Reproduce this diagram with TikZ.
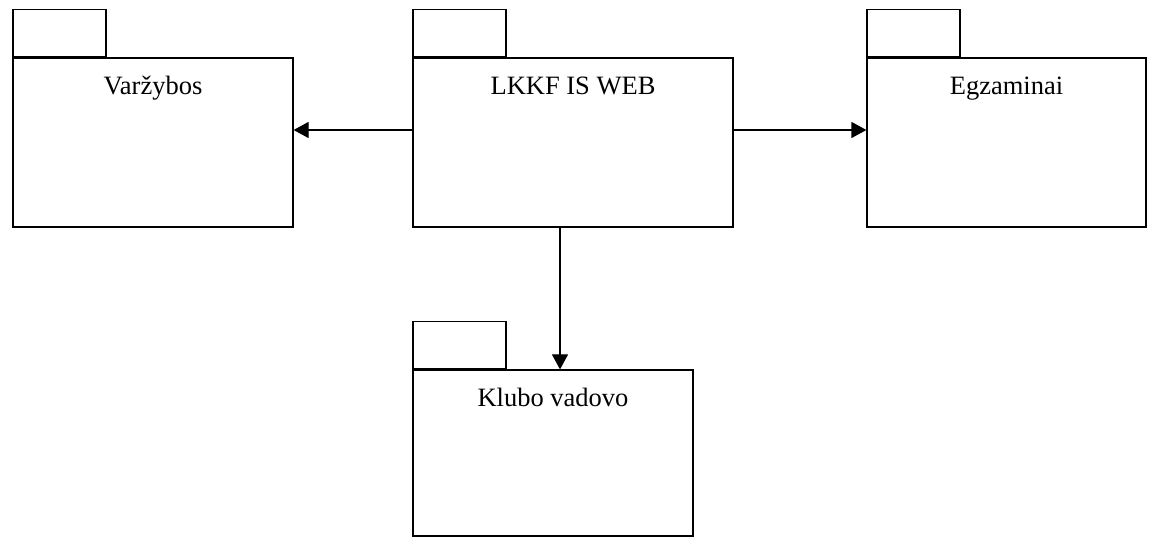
\documentclass[tikz,border=0pt]{standalone}
\usepackage{fontspec}
\setmainfont{Liberation Serif}
\usetikzlibrary{arrows.meta}
\tikzset{
  pkgnode/.style = {draw, line width=1.2pt, inner sep=0pt,
    minimum height=169pt},
  pkgtab/.style = {draw, line width=1.2pt, inner sep=0pt,
    minimum width=93pt, minimum height=47pt, anchor=south west},
  pkgtitle/.style = {anchor=base, inner sep=0pt,
    font=\fontsize{26.5}{30}\selectfont}
}
\begin{document}
\begin{tikzpicture}[
        x=1pt, y=1pt,
        dep/.style={line width=1.2pt, -{Triangle[length=15pt,width=16pt]}}
    ]
    \useasboundingbox (0,0) rectangle (1155,538);
    % packages
    \node [pkgnode, minimum width=280pt] (var) at (153,395.5) {};
    \node [pkgnode, minimum width=320pt] (web) at (573,395.5) {};
    \node [pkgnode, minimum width=279pt] (egz) at (1006.5,395.5) {};
    \node [pkgnode, minimum width=280pt, minimum height=166pt] (klu) at (553,85) {};
    % tabs
    \node [pkgtab] (vartab) at (var.north west) {};
    \node [pkgtab] (webtab) at (web.north west) {};
    \node [pkgtab] (egztab) at (egz.north west) {};
    \node [pkgtab] (klutab) at (klu.north west) {};
    % titles
    \node [pkgtitle] (vartitle) at ([yshift=-37pt]var.north) {Varžybos};
    \node [pkgtitle] (webtitle) at ([yshift=-37pt]web.north) {LKKF IS WEB};
    \node [pkgtitle] (egztitle) at ([yshift=-37pt]egz.north) {Egzaminai};
    \node [pkgtitle] (klutitle) at ([yshift=-37pt]klu.north) {Klubo vadovo};
    % dependencies
    \draw [dep] ([yshift=12.5pt]web.west) -- ([yshift=12.5pt]web.west -| var.east);
    \draw [dep] ([yshift=12.5pt]web.east) -- ([yshift=12.5pt]web.east -| egz.west);
    \draw [dep] ([xshift=-13pt]web.south) -- ([xshift=-13pt]web.south |- klu.north);
\end{tikzpicture}
\end{document}
